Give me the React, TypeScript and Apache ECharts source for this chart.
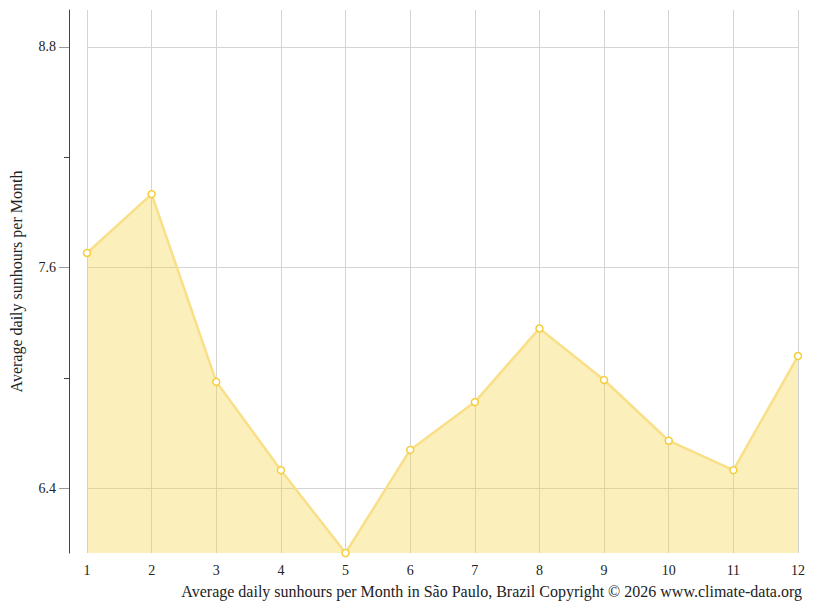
import { useEffect, useRef } from 'react'
import * as echarts from 'echarts'

const months = ['1', '2', '3', '4', '5', '6', '7', '8', '9', '10', '11', '12']
const sunHours = [7.68, 8.0, 6.98, 6.5, 6.05, 6.61, 6.87, 7.27, 6.99, 6.66, 6.5, 7.12]
const labelTicks = [6.4, 7.6, 8.8]
const minorTicks = [7.0, 8.2]

const Y_MIN = 6.05
const Y_MAX = 9.0
const FONT = 'Liberation Serif, Times New Roman, serif'

export default function App() {
  const chartRef = useRef<HTMLDivElement | null>(null)

  useEffect(() => {
    if (!chartRef.current) return
    const chart = echarts.init(chartRef.current, null, { renderer: 'svg' })

    const option: echarts.EChartsOption = {
      animation: false,
      backgroundColor: '#fff',
      textStyle: { fontFamily: FONT },
      title: {
        text: 'Average daily sunhours per Month in São Paulo, Brazil Copyright © 2026 www.climate-data.org',
        right: 8,
        bottom: 7,
        textStyle: { fontFamily: FONT, fontSize: 16, fontWeight: 'normal', color: '#222' }
      },
      grid: { left: 86, right: 17, top: 10, bottom: 58 },
      xAxis: {
        type: 'category',
        data: months,
        boundaryGap: false,
        axisLine: { show: false },
        axisTick: { show: false },
        axisLabel: { color: '#222', fontSize: 14, fontFamily: FONT, margin: 10 },
        splitLine: { show: true, lineStyle: { color: '#d4d4d4', width: 1 } }
      },
      yAxis: [
        {
          type: 'value',
          min: Y_MIN,
          max: Y_MAX,
          position: 'left',
          offset: 18,
          name: 'Average daily sunhours per Month',
          nameLocation: 'middle',
          nameRotate: 90,
          nameGap: 45,
          nameTextStyle: { fontFamily: FONT, fontSize: 16, color: '#222' },
          axisLine: { show: true, lineStyle: { color: '#444', width: 1 } },
          axisTick: {
            show: true,
            length: 10,
            customValues: labelTicks,
            lineStyle: { color: '#999' }
          },
          axisLabel: {
            customValues: labelTicks,
            color: '#222',
            fontSize: 14,
            fontFamily: FONT,
            margin: 13,
            formatter: (v: number) => v.toFixed(1)
          },
          splitLine: { show: true, lineStyle: { color: '#d4d4d4', width: 1 } }
        },
        {
          type: 'value',
          min: Y_MIN,
          max: Y_MAX,
          position: 'left',
          offset: 18,
          axisLine: { show: false },
          axisTick: {
            show: true,
            length: 5,
            customValues: minorTicks,
            lineStyle: { color: '#444' }
          },
          axisLabel: { show: false },
          splitLine: { show: false }
        }
      ],
      series: [
        {
          type: 'line',
          data: sunHours,
          yAxisIndex: 0,
          symbol: 'circle',
          symbolSize: 7,
          showSymbol: true,
          lineStyle: { color: '#f8df88', width: 2.5 },
          itemStyle: { color: '#ffffff', borderColor: '#f5cd3a', borderWidth: 1.5 },
          areaStyle: { color: 'rgba(245, 213, 70, 0.52)', origin: 'start' },
          z: 3
        }
      ]
    }

    chart.setOption(option)
    return () => chart.dispose()
  }, [])

  return (
    <div
      ref={chartRef}
      style={{ position: 'fixed', left: 0, top: 0, width: 815, height: 611 }}
    />
  )
}
